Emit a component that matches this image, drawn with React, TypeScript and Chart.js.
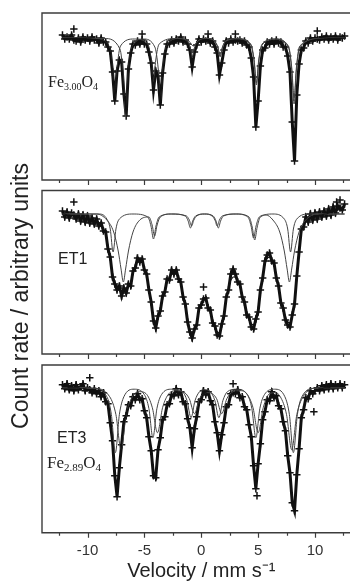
import React, { useEffect, useRef } from "react";
import { Chart, registerables } from "chart.js";

Chart.register(...registerables);

// ---- velocity channels (mm/s) ----
const velocity = [
  -12.2, -12, -11.8, -11.6, -11.4, -11.2, -11, -10.8, -10.6, -10.4,
  -10.2, -10, -9.8, -9.6, -9.4, -9.2, -9, -8.8, -8.6, -8.4,
  -8.2, -8, -7.8, -7.6, -7.4, -7.2, -7, -6.8, -6.6, -6.4,
  -6.2, -6, -5.8, -5.6, -5.4, -5.2, -5, -4.8, -4.6, -4.4,
  -4.2, -4, -3.8, -3.6, -3.4, -3.2, -3, -2.8, -2.6, -2.4,
  -2.2, -2, -1.8, -1.6, -1.4, -1.2, -1, -0.8, -0.6, -0.4,
  -0.2, 0, 0.2, 0.4, 0.6, 0.8, 1, 1.2, 1.4, 1.6,
  1.8, 2, 2.2, 2.4, 2.6, 2.8, 3, 3.2, 3.4, 3.6,
  3.8, 4, 4.2, 4.4, 4.6, 4.8, 5, 5.2, 5.4, 5.6,
  5.8, 6, 6.2, 6.4, 6.6, 6.8, 7, 7.2, 7.4, 7.6,
  7.8, 8, 8.2, 8.4, 8.6, 8.8, 9, 9.2, 9.4, 9.6,
  9.8, 10, 10.2, 10.4, 10.6, 10.8, 11, 11.2, 11.4, 11.6,
  11.8, 12, 12.2, 12.4, 12.6,
];

// ---- Fe3.00O4 ----
const fe300Counts = [
  145, 141, 143, 141, 145, 140, 139, 142, 138, 143,
  140, 142, 139, 143, 140, 141, 137, 142, 138, 138,
  133, 129, 108, 79, 109, 120, 118, 86, 64, 111,
  127, 136, 135, 139, 136, 140, 136, 136, 128, 117,
  90, 109, 104, 75, 107, 126, 136, 136, 140, 137,
  141, 139, 143, 138, 140, 136, 130, 113, 128, 135,
  141, 138, 141, 139, 141, 137, 139, 133, 127, 105,
  117, 130, 139, 137, 141, 138, 140, 139, 140, 137,
  139, 135, 133, 122, 103, 53, 79, 114, 130, 132,
  138, 136, 139, 136, 140, 137, 138, 133, 133, 124,
  108, 58, 19, 85, 116, 130, 132, 139, 137, 142,
  139, 142, 141, 140, 143, 141, 144, 140, 143, 141,
  144, 140, 143, 142, 144,
];
const fe300Outliers = [[-11.2, 151], [-5.2, 146], [0.6, 146], [3, 146], [10.2, 149]];
const fe300Fit = [
  141.5, 141.5, 141.5, 141.5, 141.5, 141.5, 141.5, 141.5, 141.5, 141.5,
  141.4, 141.3, 141.2, 141, 140.8, 140.5, 140.2, 139.7, 139, 137.5,
  134.8, 128.5, 110.2, 79.6, 107.3, 121, 116.7, 87.9, 65.8, 109.6,
  127.9, 133.9, 136.1, 137.3, 138.2, 138, 137.2, 135.2, 130.3, 116.5,
  92.1, 108.5, 105.2, 76.2, 105.2, 126.9, 134.2, 137.1, 138.5, 139.3,
  139.8, 140, 140, 139.9, 139, 136.6, 129.4, 115, 126.7, 135.8,
  138.6, 139.7, 140.1, 140.1, 139.9, 139.2, 137.9, 134.4, 126.1, 107.4,
  115.8, 131.1, 136.7, 138.3, 139.2, 139.7, 139.8, 139.7, 139.4, 138.8,
  137.8, 136, 132.3, 124, 101.6, 54.2, 78.2, 115.3, 128.5, 133.8,
  136.2, 137.4, 138, 138.3, 138.1, 137.7, 136.7, 135, 131.6, 124.7,
  107.4, 59.2, 20, 84.5, 116.8, 128.7, 133.9, 136.6, 138.2, 139.1,
  139.8, 140.2, 140.6, 140.8, 141, 141.1, 141.3, 141.4, 141.5, 141.5,
  141.6, 141.6, 141.6, 141.7, 141.7,
];
const fe300SiteA = [
  [-12.2, 142], [-9.5, 141.5], [-8.1, 134], [-7.8, 112], [-7.6, 83], [-7.4, 112], [-7.1, 134],
  [-5.9, 141], [-4.7, 136], [-4.4, 120], [-4.2, 98], [-4, 120], [-3.7, 136], [-2.2, 141.5],
  [-1.28, 139], [-0.98, 132], [-0.78, 122], [-0.58, 132], [-0.28, 139], [0.45, 141.5],
  [1.16, 139], [1.46, 133], [1.66, 124], [1.86, 133], [2.16, 139], [3.2, 141.5],
  [4.35, 136], [4.65, 120], [4.85, 97], [5.05, 120], [5.35, 136], [6.5, 141],
  [7.66, 134], [7.96, 112], [8.16, 82], [8.36, 112], [8.66, 134], [10.5, 141.5], [12.6, 142],
];
const fe300SiteB = [
  [-12.2, 142], [-8.5, 141.5], [-7.15, 131], [-6.85, 103], [-6.65, 63], [-6.45, 103], [-6.15, 131],
  [-5.1, 141], [-4.08, 133], [-3.78, 111], [-3.58, 80], [-3.38, 111], [-3.08, 133], [-2, 141.5],
  [-1.1, 139], [-0.7, 134], [-0.3, 139], [0.5, 141.5],
  [1.16, 139], [1.46, 132], [1.66, 123], [1.86, 132], [2.16, 139], [3.2, 141],
  [4.35, 135], [4.65, 118], [4.85, 95], [5.05, 118], [5.35, 135], [6.5, 141],
  [7.66, 133], [7.96, 109], [8.16, 76], [8.36, 109], [8.66, 133], [10.5, 141.5], [12.6, 142],
];

// ---- ET1 ----
const et1Counts = [
  143, 137, 142, 136, 141, 139, 135, 140, 133, 139,
  132, 138, 131, 136, 130, 135, 128, 131, 123, 122,
  105, 97, 77, 70, 64, 68, 58, 66, 61, 70,
  68, 83, 86, 96, 92, 95, 84, 80, 64, 52,
  33, 26, 38, 43, 58, 62, 75, 74, 84, 80,
  84, 75, 72, 57, 50, 32, 22, 16, 25, 29,
  46, 49, 55, 56, 46, 44, 31, 28, 19, 18,
  30, 38, 57, 64, 80, 85, 80, 72, 70, 57,
  52, 39, 37, 27, 25, 35, 42, 64, 76, 93,
  99, 101, 93, 91, 76, 68, 51, 46, 34, 29,
  27, 39, 50, 78, 102, 125, 127, 137, 132, 140,
  134, 141, 135, 142, 137, 143, 138, 145, 139, 147,
  141, 148, 146, 144, 150,
];
const et1Outliers = [[-11.2, 152], [0.2, 67], [12.2, 154], [11.9, 152]];
const et1Fit = [
  140, 140, 139, 139, 138, 138, 137, 137, 136, 136,
  135, 135, 134, 133, 133, 132, 131, 129, 126, 120,
  108, 95, 80, 72, 68, 65, 62, 63, 64, 67,
  71, 80, 88, 93, 94, 92, 86, 78, 66, 50,
  36, 30, 36, 46, 56, 65, 72, 77, 81, 82,
  81, 77, 70, 60, 48, 35, 24, 19, 22, 32,
  44, 51, 54, 54, 49, 42, 34, 26, 22, 21,
  28, 40, 54, 66, 74, 77, 77, 74, 68, 60,
  50, 42, 35, 30, 29, 33, 45, 62, 78, 90,
  96, 97, 95, 89, 79, 66, 54, 44, 37, 32,
  31, 36, 52, 75, 105, 122, 130, 133, 135, 136,
  137, 138, 138, 139, 139, 140, 140, 141, 142, 143,
  143, 144, 145, 146, 147,
];
const et1SiteA = [
  [-12.2, 140], [-9, 140], [-8.3, 135], [-8, 125], [-7.75, 102], [-7.5, 125], [-7.2, 135],
  [-6, 140], [-4.7, 137], [-4.42, 128], [-4.2, 115], [-3.98, 128], [-3.7, 137], [-2.6, 140],
  [-1.4, 138], [-1.15, 133], [-0.95, 126], [-0.75, 133], [-0.5, 138], [0.3, 140],
  [1.05, 138], [1.3, 133], [1.5, 126], [1.7, 133], [1.95, 138], [3.1, 140],
  [4.2, 137], [4.48, 127], [4.7, 114], [4.92, 127], [5.2, 137], [6.3, 140],
  [7.3, 135], [7.6, 125], [7.85, 102], [8.1, 125], [8.4, 135], [9.5, 140], [12.6, 140],
];
const et1SiteB = [
  [-12.2, 140], [-9.2, 140], [-8.3, 134], [-7.7, 122], [-7.3, 103], [-7.05, 85], [-6.85, 72],
  [-6.65, 85], [-6.4, 103], [-6, 122], [-5.4, 134], [-4.6, 137], [-4.32, 129], [-4.1, 118],
  [-3.88, 129], [-3.6, 137], [-2.6, 140], [-1.3, 138], [-1.05, 134], [-0.85, 128], [-0.65, 134],
  [-0.4, 138], [0.3, 140], [0.95, 138], [1.2, 134], [1.4, 128], [1.6, 134], [1.85, 138],
  [3, 140], [4.1, 137], [4.38, 128], [4.6, 116], [4.82, 128], [5.1, 137], [5.7, 139],
  [6.3, 134], [6.9, 122], [7.3, 103], [7.55, 85], [7.75, 72], [7.95, 85], [8.2, 103],
  [8.6, 122], [9.2, 134], [10.2, 140], [12.6, 140],
];

// ---- ET3 (Fe2.89O4) ----
const et3Counts = [
  148, 144, 149, 143, 147, 142, 148, 143, 146, 149,
  142, 145, 143, 140, 144, 139, 142, 136, 140, 131,
  129, 110, 92, 57, 36, 65, 88, 111, 117, 128,
  127, 136, 133, 139, 133, 134, 122, 115, 96, 82,
  57, 55, 83, 95, 113, 116, 128, 129, 138, 137,
  144, 138, 141, 131, 129, 114, 105, 85, 104, 116,
  131, 133, 142, 138, 141, 132, 128, 111, 100, 82,
  98, 110, 126, 128, 139, 140, 139, 143, 135, 136,
  126, 123, 108, 96, 67, 44, 69, 89, 113, 121,
  133, 132, 141, 135, 137, 127, 124, 111, 102, 77,
  60, 30, 22, 58, 84, 115, 123, 135, 134, 142,
  139, 142, 145, 142, 147, 143, 148, 144, 149, 144,
  148, 145, 149, 145, 148,
];
const et3Outliers = [[-9.8, 155], [2.8, 149], [4.9, 37], [9.9, 121]];
const et3Fit = [
  146, 146, 146, 145, 145, 145, 145, 145, 144, 144,
  144, 143, 143, 142, 142, 141, 140, 139, 138, 134,
  127, 112, 90, 60, 42, 62, 90, 108, 119, 125,
  130, 133, 135, 136, 135, 131, 124, 113, 99, 80,
  60, 58, 80, 98, 110, 118, 125, 131, 135, 139,
  141, 140, 138, 133, 127, 117, 103, 88, 102, 118,
  128, 135, 139, 140, 138, 134, 126, 113, 98, 84,
  96, 112, 123, 130, 136, 139, 141, 140, 137, 133,
  128, 121, 110, 94, 70, 48, 66, 91, 110, 123,
  130, 135, 138, 137, 134, 129, 122, 113, 100, 80,
  58, 33, 25, 55, 86, 112, 125, 132, 137, 139,
  141, 142, 143, 144, 144, 145, 145, 145, 146, 146,
  146, 146, 146, 146, 146,
];
const et3SiteA = [
  [-12.2, 145], [-9.5, 144.5], [-8.3, 136], [-7.9, 118], [-7.55, 80], [-7.2, 118], [-6.8, 136],
  [-5.9, 143.5], [-5, 138], [-4.6, 124], [-4.25, 95], [-3.9, 124], [-3.5, 138], [-2.6, 143.5],
  [-1.65, 141], [-1.25, 132], [-0.9, 115], [-0.55, 132], [-0.15, 141], [0.32, 143],
  [0.8, 141], [1.2, 132], [1.55, 115], [1.9, 132], [2.3, 141], [3.1, 143.5],
  [4.05, 138], [4.45, 124], [4.8, 95], [5.15, 124], [5.55, 138], [6.45, 143.5],
  [7.35, 136], [7.75, 118], [8.1, 80], [8.45, 118], [8.85, 136], [10, 144.5], [12.6, 145],
];
const et3SiteB = [
  [-12.2, 145], [-9.5, 144.5], [-8.05, 136], [-7.5, 118], [-7.05, 83], [-6.6, 118], [-6.05, 136],
  [-5.4, 141], [-4.85, 139], [-4.3, 125], [-3.85, 100], [-3.4, 125], [-2.85, 139], [-2.2, 142],
  [-1.6, 141], [-1.05, 134], [-0.6, 119], [-0.15, 134], [0.6, 140], [1.35, 134], [1.8, 119],
  [2.25, 134], [2.8, 141], [3.4, 142], [4, 139], [4.55, 125], [5, 100], [5.45, 125], [6, 139],
  [6.5, 140], [6.95, 136], [7.5, 118], [7.95, 83], [8.4, 118], [8.95, 136], [10, 144.5], [12.6, 145],
];

// ---- axis / text ----
const xTickValues = [-12.5, -10, -7.5, -5, -2.5, 0, 2.5, 5, 7.5, 10, 12.5];
const xTitle = "Velocity / mm s\u207B\u00B9";
const yTitle = "Count rate / arbitrary units";

const SANS = "'Liberation Sans', Arial, sans-serif";
const SERIF = "'Liberation Serif', 'Times New Roman', serif";
const CANVAS_W = 366;
const CANVAS_H = 581;
const PANEL3_BOTTOM = 532.7;

type Part = { t: string; sub?: boolean };
type TextLabel = { parts: Part[]; x: number; y: number; serif?: boolean; size: number };

const framePlugin = {
  id: "panelFrame",
  afterDraw(chart: any) {
    const { ctx, chartArea: a, scales } = chart;
    const xs = scales.x;
    ctx.save();
    ctx.strokeStyle = "#3c3c3c";
    ctx.lineWidth = 1.4;
    ctx.beginPath();
    ctx.moveTo(a.right, a.top);
    ctx.lineTo(a.left, a.top);
    ctx.lineTo(a.left, a.bottom);
    ctx.lineTo(a.right, a.bottom);
    ctx.stroke();
    ctx.lineWidth = 1.2;
    ctx.beginPath();
    for (const v of xTickValues) {
      const px = Math.round(xs.getPixelForValue(v)) + 0.5;
      const len = v % 5 === 0 ? 5 : 3;
      ctx.moveTo(px, a.bottom);
      ctx.lineTo(px, a.bottom + len);
    }
    ctx.stroke();
    ctx.restore();
  },
};

const textPlugin = {
  id: "panelText",
  afterDraw(chart: any, _args: any, opts: any) {
    const ctx = chart.ctx;
    ctx.save();
    ctx.fillStyle = "#222";
    ctx.textBaseline = "alphabetic";
    ctx.textAlign = "left";
    for (const lab of (opts.labels || []) as TextLabel[]) {
      let x = lab.x;
      const fam = lab.serif ? SERIF : SANS;
      for (const p of lab.parts) {
        const size = p.sub ? Math.round(lab.size * 0.62) : lab.size;
        ctx.font = `${size}px ${fam}`;
        ctx.fillText(p.t, x, lab.y + (p.sub ? 3 : 0));
        x += ctx.measureText(p.t).width;
      }
    }
    if (opts.yTitle) {
      ctx.translate(opts.yTitle.x, opts.yTitle.y);
      ctx.rotate(-Math.PI / 2);
      ctx.textAlign = "center";
      ctx.textBaseline = "middle";
      ctx.font = `${opts.yTitle.size}px ${SANS}`;
      ctx.fillStyle = "#222";
      ctx.fillText(opts.yTitle.text, 0, 0);
    }
    ctx.restore();
  },
};

function toPoints(xs: number[], ys: number[]) {
  return xs.map((x, i) => ({ x, y: ys[i] }));
}
function knots(list: number[][]) {
  return list.map(([x, y]) => ({ x, y }));
}

const crossStyle = {
  pointStyle: "cross",
  pointRadius: 3.7,
  pointBorderWidth: 1.5,
  pointBorderColor: "#111",
  pointBackgroundColor: "#111",
};

function buildConfig(p: {
  counts: number[];
  outliers: number[][];
  fit: number[];
  siteA: number[][];
  siteB: number[][];
  top: number;
  bottom: number;
  yMax: number;
  showAxis: boolean;
  labels: TextLabel[];
  yTitle?: any;
}): any {
  const xScale: any = {
    type: "linear",
    min: -14,
    max: 14,
    display: p.showAxis,
    grid: { display: false, drawTicks: false },
    border: { display: false },
    ticks: {
      stepSize: 5,
      includeBounds: false,
      autoSkip: false,
      maxRotation: 0,
      padding: 9,
      color: "#333",
      font: { family: SANS, size: 15 },
    },
    title: {
      display: true,
      text: xTitle,
      color: "#222",
      padding: { top: 0, bottom: 0 },
      font: { family: SANS, size: 20, lineHeight: 1 },
    },
  };
  if (p.showAxis) {
    xScale.afterFit = (scale: any) => {
      scale.height = CANVAS_H - PANEL3_BOTTOM;
    };
  }
  return {
    type: "scatter",
    data: {
      datasets: [
        {
          data: toPoints(velocity, p.fit),
          showLine: true,
          borderColor: "#111",
          borderWidth: 1.1,
          pointRadius: 0,
          order: 1,
        },
        {
          data: knots(p.siteA),
          showLine: true,
          borderColor: "#444",
          borderWidth: 1,
          pointRadius: 0,
          cubicInterpolationMode: "monotone",
          order: 2,
        },
        {
          data: knots(p.siteB),
          showLine: true,
          borderColor: "#444",
          borderWidth: 1,
          pointRadius: 0,
          cubicInterpolationMode: "monotone",
          order: 2,
        },
        {
          data: toPoints(velocity, p.counts),
          showLine: true,
          borderColor: "#111",
          borderWidth: 3,
          ...crossStyle,
          order: 3,
        },
        {
          data: knots(p.outliers),
          showLine: false,
          ...crossStyle,
          order: 3,
        },
      ],
    },
    options: {
      responsive: false,
      animation: false,
      devicePixelRatio: 1,
      events: [],
      layout: { padding: { left: 42, right: 4, top: p.top, bottom: p.bottom } },
      plugins: {
        legend: { display: false },
        tooltip: { enabled: false },
        panelText: { labels: p.labels, yTitle: p.yTitle },
      },
      scales: {
        x: xScale,
        y: { type: "linear", min: 0, max: p.yMax, display: false },
      },
    },
    plugins: [framePlugin, textPlugin],
  };
}

const configs = [
  buildConfig({
    counts: fe300Counts,
    outliers: fe300Outliers,
    fit: fe300Fit,
    siteA: fe300SiteA,
    siteB: fe300SiteB,
    top: 13,
    bottom: CANVAS_H - 180,
    yMax: 167,
    showAxis: false,
    labels: [
      { parts: [{ t: "Fe" }, { t: "3.00", sub: true }, { t: "O" }, { t: "4", sub: true }], x: 48, y: 87, serif: true, size: 16 },
    ],
  }),
  buildConfig({
    counts: et1Counts,
    outliers: et1Outliers,
    fit: et1Fit,
    siteA: et1SiteA,
    siteB: et1SiteB,
    top: 190.5,
    bottom: CANVAS_H - 354,
    yMax: 163.5,
    showAxis: false,
    labels: [{ parts: [{ t: "ET1" }], x: 58, y: 264, size: 16 }],
    yTitle: { text: yTitle, x: 22, y: 296, size: 23 },
  }),
  buildConfig({
    counts: et3Counts,
    outliers: et3Outliers,
    fit: et3Fit,
    siteA: et3SiteA,
    siteB: et3SiteB,
    top: 365,
    bottom: 0,
    yMax: 167.7,
    showAxis: true,
    labels: [
      { parts: [{ t: "ET3" }], x: 57, y: 443, size: 16 },
      { parts: [{ t: "Fe" }, { t: "2.89", sub: true }, { t: "O" }, { t: "4", sub: true }], x: 47, y: 468, serif: true, size: 17 },
    ],
  }),
];

export default function App() {
  const r1 = useRef<HTMLCanvasElement | null>(null);
  const r2 = useRef<HTMLCanvasElement | null>(null);
  const r3 = useRef<HTMLCanvasElement | null>(null);

  useEffect(() => {
    const refs = [r1, r2, r3];
    const charts = refs.map((r, i) => new Chart(r.current as HTMLCanvasElement, configs[i]));
    return () => charts.forEach((c) => c.destroy());
  }, []);

  const cs: React.CSSProperties = {
    position: "absolute",
    left: 0,
    top: 0,
    width: CANVAS_W,
    height: CANVAS_H,
  };

  return (
    <div
      style={{
        position: "fixed",
        left: 0,
        top: 0,
        width: 350,
        height: 581,
        overflow: "hidden",
        background: "#fff",
      }}
    >
      <canvas ref={r1} width={CANVAS_W} height={CANVAS_H} style={cs} />
      <canvas ref={r2} width={CANVAS_W} height={CANVAS_H} style={cs} />
      <canvas ref={r3} width={CANVAS_W} height={CANVAS_H} style={cs} />
    </div>
  );
}
